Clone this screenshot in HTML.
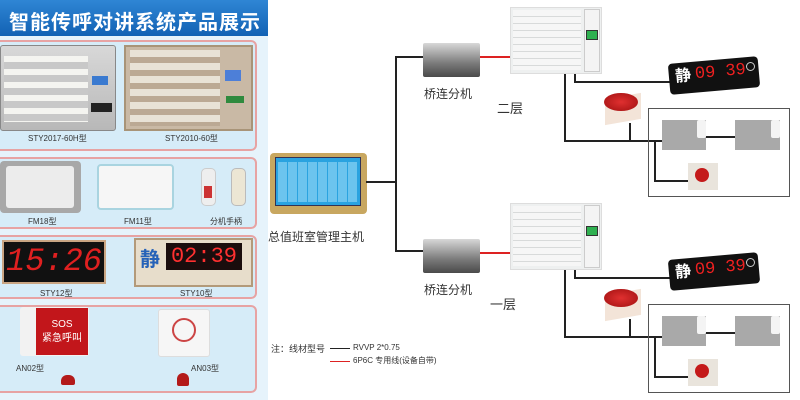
<!DOCTYPE html>
<html><head><meta charset="utf-8"><style>
*{margin:0;padding:0;box-sizing:border-box}
body{width:800px;height:400px;position:relative;overflow:hidden;background:#fff;font-family:"Liberation Sans","Noto Sans CJK SC",sans-serif}
.a{position:absolute}
.hl{position:absolute;height:2px;background:#222}
.vl{position:absolute;width:2px;background:#222}
.lbl{position:absolute;font-size:12px;color:#333;white-space:nowrap}
.sec{position:absolute;left:-6px;width:263px;border:2px solid #e7a3a3;border-radius:6px;background:#d6ecf8}
.cap{position:absolute;font-size:8px;color:#333;white-space:nowrap}
</style></head><body>
<!-- LEFT PANEL -->
<div class="a" style="left:0;top:0;width:268px;height:400px;background:#e6f3fb"></div>
<div class="a" style="left:0;top:0;width:268px;height:36px;background:linear-gradient(#2f86d4,#1262b4)"></div>
<div class="a" style="left:9px;top:6px;font-size:20px;font-weight:bold;color:#fff;letter-spacing:1px;white-space:nowrap">智能传呼对讲系统产品展示</div>
<div class="sec" style="top:40px;height:111px"></div>
<div class="a" style="left:0;top:45px;width:116px;height:86px;background:linear-gradient(#d8d8d8,#b8b8b8);border:1px solid #888;border-radius:3px"></div>
<div class="a" style="left:4px;top:56px;width:84px;height:66px;background:repeating-linear-gradient(#f4f4f0 0 6px,#c8c8c8 6px 13px)"></div>
<div class="a" style="left:92px;top:76px;width:16px;height:9px;background:#3a7ad0"></div>
<div class="a" style="left:91px;top:103px;width:21px;height:9px;background:#222"></div>
<div class="a" style="left:124px;top:45px;width:129px;height:86px;background:#c9b9a5;border:2px solid #a89478"></div>
<div class="a" style="left:130px;top:50px;width:90px;height:76px;background:repeating-linear-gradient(#e8e2d6 0 7px,#bba994 7px 13px)"></div>
<div class="a" style="left:225px;top:70px;width:16px;height:11px;background:#4d7fd8"></div>
<div class="a" style="left:226px;top:96px;width:18px;height:7px;background:#2f8a3e"></div>
<div class="cap" style="left:28px;top:133px">STY2017-60H型</div>
<div class="cap" style="left:165px;top:133px">STY2010-60型</div>
<div class="sec" style="top:157px;height:72px"></div>
<div class="a" style="left:0;top:161px;width:81px;height:52px;background:#a8a8a8;border-radius:4px"></div>
<div class="a" style="left:6px;top:166px;width:68px;height:42px;background:#ececec;border-radius:3px"></div>
<div class="a" style="left:97px;top:164px;width:77px;height:46px;background:#f6f6f6;border:2px solid #a9d4e0;border-radius:4px"></div>
<div class="a" style="left:201px;top:168px;width:15px;height:38px;background:#eee;border:1px solid #ccc;border-radius:5px"></div>
<div class="a" style="left:204px;top:186px;width:8px;height:12px;background:#c33"></div>
<div class="a" style="left:231px;top:168px;width:15px;height:38px;background:#ece6d4;border:1px solid #bbb;border-radius:5px"></div>
<div class="cap" style="left:28px;top:216px">FM18型</div>
<div class="cap" style="left:124px;top:216px">FM11型</div>
<div class="cap" style="left:210px;top:216px">分机手柄</div>
<div class="sec" style="top:235px;height:64px"></div>
<div class="a" style="left:2px;top:240px;width:104px;height:44px;background:#111;border:2px solid #c9a583;font-family:'Liberation Mono',monospace;color:#e02020;font-size:32px;text-align:center;line-height:40px;font-style:italic">15:26</div>
<div class="a" style="left:134px;top:238px;width:119px;height:49px;background:#e7ddcb;border:2px solid #b39a7a"></div>
<div class="a" style="left:140px;top:243px;font-size:20px;font-weight:bold;color:#2662b8">静</div>
<div class="a" style="left:166px;top:243px;width:76px;height:27px;background:#1a0d0d;color:#ff3030;font-size:22px;line-height:27px;text-align:center;font-family:'Liberation Mono',monospace">02:39</div>
<div class="cap" style="left:40px;top:288px">STY12型</div>
<div class="cap" style="left:180px;top:288px">STY10型</div>
<div class="sec" style="top:305px;height:88px"></div>
<div class="a" style="left:20px;top:307px;width:69px;height:49px;background:#f2f2f2;border-radius:3px"></div>
<div class="a" style="left:36px;top:308px;width:52px;height:47px;background:#c2161b;color:#fff;font-size:10px;text-align:center;padding-top:10px;line-height:14px">SOS<br>紧急呼叫</div>
<div class="a" style="left:61px;top:375px;width:14px;height:10px;background:#b31a1a;border-radius:6px 6px 2px 2px"></div>
<div class="a" style="left:158px;top:309px;width:52px;height:48px;background:#f6f6f6;border:1px solid #ddd;border-radius:3px"></div>
<div class="a" style="left:172px;top:318px;width:24px;height:24px;border:2px solid #c44;border-radius:50%"></div>
<div class="a" style="left:177px;top:373px;width:12px;height:13px;background:#b31a1a;border-radius:6px 6px 2px 2px"></div>
<div class="cap" style="left:16px;top:363px">AN02型</div>
<div class="cap" style="left:191px;top:363px">AN03型</div>

<!-- RIGHT DIAGRAM -->
<div class="a" style="left:270px;top:153px;width:97px;height:61px;background:#c8a760;border-radius:4px"></div>
<div class="a" style="left:275px;top:157px;width:86px;height:49px;background:#2aa3e0;border:1px solid #335"></div>
<div class="a" style="left:278px;top:162px;width:80px;height:40px;background:repeating-linear-gradient(90deg,#6cc4ee 0 9px,#2aa3e0 9px 10px)"></div>
<div class="lbl" style="left:268px;top:228px">总值班室管理主机</div>
<div class="hl" style="left:366px;top:181px;width:31px"></div>
<div class="vl" style="left:395px;top:56px;height:196px"></div>

<div class="a" style="left:0;top:0;width:800px;height:200px">
 <div class="hl" style="left:395px;top:56px;width:29px"></div>
 <div class="a" style="left:423px;top:43px;width:57px;height:34px;background:linear-gradient(#d8d8d8,#7a7a7a 60%,#4a4a4a);border-radius:2px"></div>
 <div class="lbl" style="left:424px;top:85px">桥连分机</div>
 <div class="a" style="left:480px;top:56px;width:30px;height:2px;background:#d22"></div>
 <div class="a" style="left:510px;top:7px;width:92px;height:67px;background:#eef0f0;border:1px solid #ddd"></div>
 <div class="a" style="left:513px;top:10px;width:68px;height:60px;background:repeating-linear-gradient(#f6f6f6 0 6px,#d8dada 6px 7px)"></div>
 <div class="a" style="left:584px;top:9px;width:16px;height:63px;background:#f4f4f4;border:1px solid #ccc"></div>
 <div class="a" style="left:586px;top:30px;width:12px;height:10px;background:#2fb050;border:1px solid #333"></div>
 <div class="lbl" style="left:497px;top:98px;font-size:13px">二层</div>
 <div class="vl" style="left:574px;top:74px;height:9px"></div>
 <div class="hl" style="left:574px;top:81px;width:96px"></div>
 <div class="a" style="left:669px;top:60px;width:90px;height:31px;background:#111;border-radius:4px;transform:rotate(-5deg)"></div>
 <div class="a" style="left:675px;top:62px;font-size:16px;font-weight:bold;color:#fff;transform:rotate(-5deg)">静</div>
 <div class="a" style="left:695px;top:63px;font-size:17px;color:#ef2020;transform:rotate(-5deg);font-family:'Liberation Mono',monospace">09 39</div>
 <div class="a" style="left:746px;top:62px;width:9px;height:9px;border:1px solid #ccc;border-radius:50%"></div>
 <div class="vl" style="left:564px;top:74px;height:68px"></div>
 <div class="hl" style="left:564px;top:140px;width:98px"></div>
 <div class="a" style="left:605px;top:96px;width:36px;height:26px;background:#f3e4d8;transform:skewY(-10deg)"></div>
 <div class="a" style="left:604px;top:93px;width:34px;height:18px;background:radial-gradient(#e03030,#a01010);border-radius:50%"></div>
 <div class="vl" style="left:629px;top:123px;height:18px"></div>
 <div class="a" style="left:648px;top:108px;width:142px;height:89px;border:1px solid #555"></div>
 <div class="a" style="left:662px;top:120px;width:44px;height:30px;background:#a9a9a9"></div>
 <div class="a" style="left:697px;top:120px;width:9px;height:18px;background:#f4f4f4;border-radius:2px"></div>
 <div class="a" style="left:735px;top:120px;width:45px;height:30px;background:#a9a9a9"></div>
 <div class="a" style="left:771px;top:120px;width:9px;height:18px;background:#f4f4f4;border-radius:2px"></div>
 <div class="hl" style="left:706px;top:136px;width:29px"></div>
 <div class="vl" style="left:654px;top:140px;height:42px"></div>
 <div class="hl" style="left:654px;top:180px;width:34px"></div>
 <div class="a" style="left:688px;top:163px;width:30px;height:27px;background:#e9e4dc"></div>
 <div class="a" style="left:695px;top:168px;width:14px;height:14px;background:#c41a1a;border-radius:50%"></div>
</div>
<div class="a" style="left:0;top:196px;width:800px;height:200px">
 <div class="hl" style="left:395px;top:54px;width:29px"></div>
 <div class="a" style="left:423px;top:43px;width:57px;height:34px;background:linear-gradient(#d8d8d8,#7a7a7a 60%,#4a4a4a);border-radius:2px"></div>
 <div class="lbl" style="left:424px;top:85px">桥连分机</div>
 <div class="a" style="left:480px;top:56px;width:30px;height:2px;background:#d22"></div>
 <div class="a" style="left:510px;top:7px;width:92px;height:67px;background:#eef0f0;border:1px solid #ddd"></div>
 <div class="a" style="left:513px;top:10px;width:68px;height:60px;background:repeating-linear-gradient(#f6f6f6 0 6px,#d8dada 6px 7px)"></div>
 <div class="a" style="left:584px;top:9px;width:16px;height:63px;background:#f4f4f4;border:1px solid #ccc"></div>
 <div class="a" style="left:586px;top:30px;width:12px;height:10px;background:#2fb050;border:1px solid #333"></div>
 <div class="lbl" style="left:490px;top:98px;font-size:13px">一层</div>
 <div class="vl" style="left:574px;top:74px;height:9px"></div>
 <div class="hl" style="left:574px;top:81px;width:96px"></div>
 <div class="a" style="left:669px;top:60px;width:90px;height:31px;background:#111;border-radius:4px;transform:rotate(-5deg)"></div>
 <div class="a" style="left:675px;top:62px;font-size:16px;font-weight:bold;color:#fff;transform:rotate(-5deg)">静</div>
 <div class="a" style="left:695px;top:63px;font-size:17px;color:#ef2020;transform:rotate(-5deg);font-family:'Liberation Mono',monospace">09 39</div>
 <div class="a" style="left:746px;top:62px;width:9px;height:9px;border:1px solid #ccc;border-radius:50%"></div>
 <div class="vl" style="left:564px;top:74px;height:68px"></div>
 <div class="hl" style="left:564px;top:140px;width:98px"></div>
 <div class="a" style="left:605px;top:96px;width:36px;height:26px;background:#f3e4d8;transform:skewY(-10deg)"></div>
 <div class="a" style="left:604px;top:93px;width:34px;height:18px;background:radial-gradient(#e03030,#a01010);border-radius:50%"></div>
 <div class="vl" style="left:629px;top:123px;height:18px"></div>
 <div class="a" style="left:648px;top:108px;width:142px;height:89px;border:1px solid #555"></div>
 <div class="a" style="left:662px;top:120px;width:44px;height:30px;background:#a9a9a9"></div>
 <div class="a" style="left:697px;top:120px;width:9px;height:18px;background:#f4f4f4;border-radius:2px"></div>
 <div class="a" style="left:735px;top:120px;width:45px;height:30px;background:#a9a9a9"></div>
 <div class="a" style="left:771px;top:120px;width:9px;height:18px;background:#f4f4f4;border-radius:2px"></div>
 <div class="hl" style="left:706px;top:136px;width:29px"></div>
 <div class="vl" style="left:654px;top:140px;height:42px"></div>
 <div class="hl" style="left:654px;top:180px;width:34px"></div>
 <div class="a" style="left:688px;top:163px;width:30px;height:27px;background:#e9e4dc"></div>
 <div class="a" style="left:695px;top:168px;width:14px;height:14px;background:#c41a1a;border-radius:50%"></div>
</div>

<div class="lbl" style="left:271px;top:342px;font-size:9px">注：线材型号</div>
<div class="a" style="left:330px;top:348px;width:20px;height:1px;background:#222"></div>
<div class="lbl" style="left:353px;top:343px;font-size:8px">RVVP 2*0.75</div>
<div class="a" style="left:330px;top:361px;width:20px;height:1px;background:#d22"></div>
<div class="lbl" style="left:353px;top:355px;font-size:8px">6P6C 专用线(设备自带)</div>
</body></html>
